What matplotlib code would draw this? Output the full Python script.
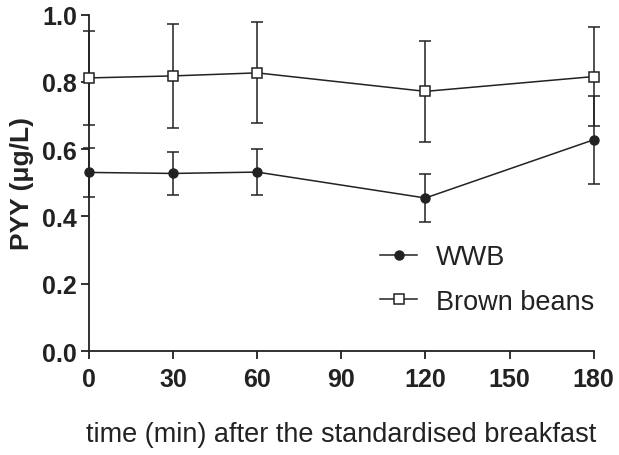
import matplotlib.pyplot as plt

plt.rcParams['font.family'] = ['Liberation Sans', 'DejaVu Sans']

# data
time = [0, 30, 60, 120, 180]
wwb = [0.531, 0.528, 0.532, 0.455, 0.628]
wwb_err = [0.073, 0.064, 0.069, 0.072, 0.130]
beans = [0.812, 0.818, 0.827, 0.772, 0.816]
beans_err = [0.140, 0.155, 0.150, 0.151, 0.148]

fig = plt.figure(figsize=(6.19, 4.56), dpi=100)
ax = fig.add_axes([0.1438, 0.228, 0.8152, 0.7376])

col = '#222222'
ax.errorbar(time, beans, yerr=beans_err, fmt='none', ecolor=col, elinewidth=1.1,
            capsize=4.3, capthick=1.1, clip_on=False, zorder=2)
ax.errorbar(time, wwb, yerr=wwb_err, fmt='none', ecolor=col, elinewidth=1.1,
            capsize=4.3, capthick=1.1, clip_on=False, zorder=2)
ax.plot(time, wwb, '-o', color=col, lw=1.1, ms=6.5, mfc=col, mec=col,
        clip_on=False, zorder=3, label='WWB')
ax.plot(time, beans, '-s', color=col, lw=1.1, ms=6.5, mfc='white', mec=col,
        mew=1.1, clip_on=False, zorder=3, label='Brown beans')

ax.set_xlim(0, 180)
ax.set_ylim(0, 1.0)
ax.set_xticks([0, 30, 60, 90, 120, 150, 180])
ax.set_yticks([0.0, 0.2, 0.4, 0.6, 0.8, 1.0])
ax.set_yticklabels(['0.0', '0.2', '0.4', '0.6', '0.8', '1.0'])

for s in ['top', 'right']:
    ax.spines[s].set_visible(False)
for s in ['left', 'bottom']:
    ax.spines[s].set_linewidth(1.3)
    ax.spines[s].set_color(col)

ax.tick_params(direction='out', length=5.8, width=1.3, color=col,
               labelsize=18, labelcolor=col, pad=3)
ax.tick_params(axis='x', pad=5.5)
for lab in ax.get_xticklabels() + ax.get_yticklabels():
    lab.set_fontweight('bold')

ax.set_ylabel('PYY (\u03bcg/L)', fontsize=19, fontweight='bold', color=col, labelpad=6)
ax.set_xlabel('time (min) after the standardised breakfast', fontsize=19.5,
              color=col, labelpad=22)

leg = ax.legend(loc='center left', bbox_to_anchor=(0.577, 0.213), frameon=False,
                fontsize=19.5, handlelength=1.37, labelspacing=0.68, handletextpad=0.7,
                borderpad=0, borderaxespad=0)
for t in leg.get_texts():
    t.set_color(col)

plt.savefig('out.png', dpi=100)
plt.close()
